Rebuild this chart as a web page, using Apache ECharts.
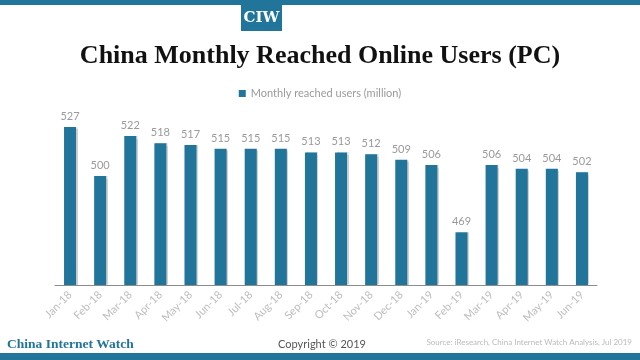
<!DOCTYPE html>
<html><head><meta charset="utf-8">
<script src="https://cdn.jsdelivr.net/npm/echarts@6/dist/echarts.min.js"></script>
<style>html,body{margin:0;padding:0;background:#fff}#c{width:640px;height:360px}</style>
</head><body><div id="c"></div>
<script>
const categories = ['Jan-18','Feb-18','Mar-18','Apr-18','May-18','Jun-18','Jul-18','Aug-18','Sep-18','Oct-18','Nov-18','Dec-18','Jan-19','Feb-19','Mar-19','Apr-19','May-19','Jun-19'];
const users = [527,500,522,518,517,515,515,515,513,513,512,509,506,469,506,504,504,502];
const seriesName = 'Monthly reached users (million)';
const blue = '#21759b';
const chart = echarts.init(document.getElementById('c'));
chart.setOption({
  animation: false,
  backgroundColor: '#fff',
  legend: {
    top: 83, left: 'center', itemWidth: 7, itemHeight: 7, itemGap: 4,
    icon: 'rect',
    textStyle: {color: '#9a9a9a', fontFamily: 'Lato', fontSize: 11},
    data: [seriesName]
  },
  grid: {left: 55, right: 43, top: 67, bottom: 75},
  xAxis: {
    type: 'category', data: categories,
    axisLine: {lineStyle: {color: '#8c8c8c', width: 1}},
    axisTick: {show: false},
    axisLabel: {rotate: 45, color: '#bdbdbd', fontFamily: 'Lato', fontSize: 11, interval: 0, margin: 8}
  },
  yAxis: {type: 'value', min: 440, max: 560, show: false},
  series: [{
    name: seriesName, type: 'bar', data: users, barWidth: '40%',
    itemStyle: {color: blue, shadowColor: 'rgba(0,0,0,0.18)', shadowOffsetX: 1.5, shadowBlur: 1},
    label: {show: true, position: 'top', color: '#9a9a9a', fontFamily: 'Lato', fontSize: 11, distance: 5}
  }],
  graphic: [
    {type: 'rect', shape: {x: 0, y: 0, width: 640, height: 5}, style: {fill: blue}},
    {type: 'rect', shape: {x: 241, y: 5, width: 41, height: 26}, style: {fill: blue}},
    {type: 'text', x: 261.5, y: 18.5, style: {text: 'CIW', fill: '#fff', font: 'bold 15px "DejaVu Serif"', align: 'center', verticalAlign: 'middle'}},
    {type: 'text', x: 320, y: 56, style: {text: 'China Monthly Reached Online Users (PC)', fill: '#111', font: 'bold 26px "Liberation Serif"', align: 'center', verticalAlign: 'middle'}},
    {type: 'text', x: 7, y: 345, style: {text: 'China Internet Watch', fill: blue, font: 'bold 13.5px "Liberation Serif"', align: 'left', verticalAlign: 'middle'}},
    {type: 'text', x: 322, y: 344, style: {text: 'Copyright © 2019', fill: '#555', font: '11px Lato', align: 'center', verticalAlign: 'middle'}},
    {type: 'text', x: 632, y: 342, style: {text: 'Source: iResearch, China Internet Watch Analysis, Jul 2019', fill: '#bbb', font: '8px Lato', align: 'right', verticalAlign: 'middle'}},
    {type: 'rect', shape: {x: 0, y: 353, width: 640, height: 7}, style: {fill: blue}}
  ]
});
</script></body></html>
